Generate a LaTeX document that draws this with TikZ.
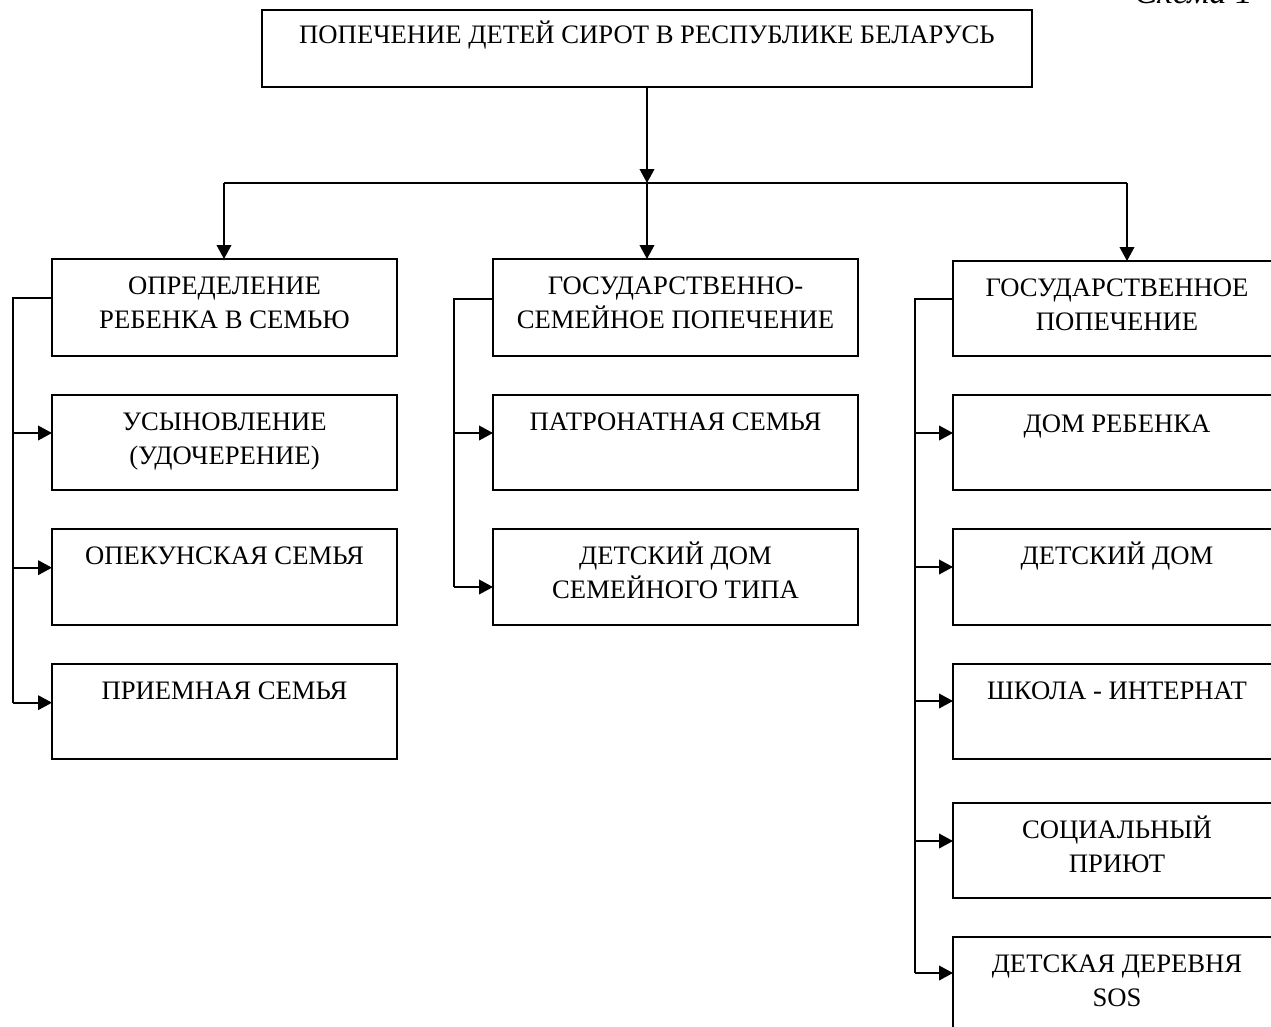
\documentclass[tikz,border=0pt]{standalone}
\usepackage{fontspec}
\setmainfont{Liberation Serif}
\usetikzlibrary{arrows.meta}
\newcommand{\boxtxt}[4]{\parbox[t][#2][t]{#1}{\centering\rule{0pt}{#3}#4}}
\tikzset{
  blk/.style={draw, line width=1.3pt, inner sep=0pt, outer sep=0pt, anchor=north west},
  conn/.style={line width=1.3pt},
  arr/.style={conn, -{Triangle[length=10.5pt,width=11pt]}},
}
\begin{document}
\begin{tikzpicture}[x=0.75pt,y=-0.75pt,font=\fontsize{20pt}{25.5pt}\selectfont]
\useasboundingbox (0,0) rectangle (1271,1026);
\clip (0,0) rectangle (1271,1026);

% caption
\node[anchor=base east, inner sep=0pt, font=\fontsize{26pt}{30pt}\selectfont\itshape] (cap) at (1253,3) {Схема 1};

% top
\node[blk] (top) at (262,10) {\boxtxt{577.5pt}{57.75pt}{25.3pt}{ПОПЕЧЕНИЕ ДЕТЕЙ СИРОТ В РЕСПУБЛИКЕ БЕЛАРУСЬ}};

% left column
\node[blk] (l1) at (52,259) {\boxtxt{258.75pt}{72.75pt}{26.8pt}{ОПРЕДЕЛЕНИЕ\\РЕБЕНКА В СЕМЬЮ}};
\node[blk] (l2) at (52,395) {\boxtxt{258.75pt}{71.25pt}{26.8pt}{УСЫНОВЛЕНИЕ\\(УДОЧЕРЕНИЕ)}};
\node[blk] (l3) at (52,529) {\boxtxt{258.75pt}{72pt}{26.8pt}{ОПЕКУНСКАЯ СЕМЬЯ}};
\node[blk] (l4) at (52,664) {\boxtxt{258.75pt}{71.25pt}{26.8pt}{ПРИЕМНАЯ СЕМЬЯ}};

% middle column
\node[blk] (m1) at (493,259) {\boxtxt{273.75pt}{72.75pt}{26.8pt}{ГОСУДАРСТВЕННО-\\СЕМЕЙНОЕ ПОПЕЧЕНИЕ}};
\node[blk] (m2) at (493,395) {\boxtxt{273.75pt}{71.25pt}{26.8pt}{ПАТРОНАТНАЯ СЕМЬЯ}};
\node[blk] (m3) at (493,529) {\boxtxt{273.75pt}{72pt}{26.8pt}{ДЕТСКИЙ ДОМ\\СЕМЕЙНОГО ТИПА}};

% right column
\node[blk] (r1) at (953,261) {\boxtxt{246pt}{71.25pt}{26.8pt}{ГОСУДАРСТВЕННОЕ\\ПОПЕЧЕНИЕ}};
\node[blk] (r2) at (953,395) {\boxtxt{246pt}{71.25pt}{28pt}{ДОМ РЕБЕНКА}};
\node[blk] (r3) at (953,529) {\boxtxt{246pt}{72pt}{26.8pt}{ДЕТСКИЙ ДОМ}};
\node[blk] (r4) at (953,664) {\boxtxt{246pt}{71.25pt}{26.8pt}{ШКОЛА - ИНТЕРНАТ}};
\node[blk] (r5) at (953,803) {\boxtxt{246pt}{71.25pt}{26.8pt}{СОЦИАЛЬНЫЙ\\ПРИЮТ}};
\node[blk] (r6) at (953,937) {\boxtxt{246pt}{71.25pt}{26.8pt}{ДЕТСКАЯ ДЕРЕВНЯ\\SOS}};

% top distribution
\coordinate (jl) at (224,183);
\coordinate (jm) at (647,183);
\coordinate (jr) at (1127,183);
\draw[arr] (top.south) -- (jm);
\draw[conn] (jl) -- (jr);
\draw[arr] (jl) -- (jl |- l1.north);
\draw[arr] (jm) -- (jm |- m1.north);
\draw[arr] (jr) -- (jr |- r1.north);

% left bracket
\coordinate (bl) at (13,298);
\coordinate (tl2) at ([yshift=-28.5pt]l2.north west);
\coordinate (tl3) at ([yshift=-29pt]l3.north west);
\coordinate (tl4) at ([yshift=-29pt]l4.north west);
\draw[conn] (bl -| l1.west) -- (bl) -- (bl |- tl4);
\foreach \t in {tl2,tl3,tl4} \draw[arr] (bl |- \t) -- (\t);

% middle bracket
\coordinate (bm) at (454,299);
\coordinate (tm2) at ([yshift=-28.5pt]m2.north west);
\coordinate (tm3) at ([yshift=-43.5pt]m3.north west);
\draw[conn] (bm -| m1.west) -- (bm) -- (bm |- tm3);
\foreach \t in {tm2,tm3} \draw[arr] (bm |- \t) -- (\t);

% right bracket
\coordinate (br) at (915,299);
\coordinate (tr2) at ([yshift=-28.5pt]r2.north west);
\coordinate (tr3) at ([yshift=-28.5pt]r3.north west);
\coordinate (tr4) at ([yshift=-27.75pt]r4.north west);
\coordinate (tr5) at ([yshift=-28.5pt]r5.north west);
\coordinate (tr6) at ([yshift=-27pt]r6.north west);
\draw[conn] (br -| r1.west) -- (br) -- (br |- tr6);
\foreach \t in {tr2,tr3,tr4,tr5,tr6} \draw[arr] (br |- \t) -- (\t);
\end{tikzpicture}
\end{document}
